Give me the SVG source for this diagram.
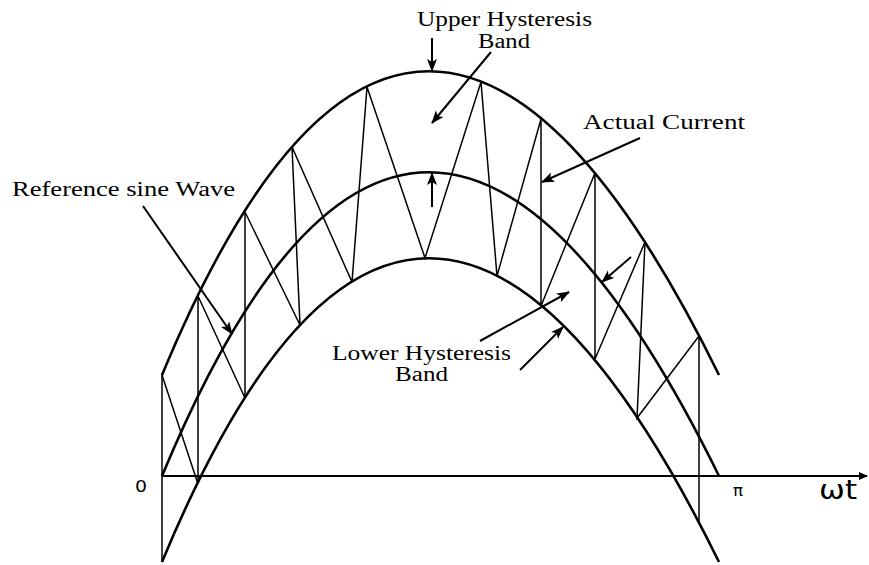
<svg xmlns="http://www.w3.org/2000/svg" width="869" height="565" viewBox="0 0 869 565">
<style>
.curve{fill:none;stroke:#000;stroke-width:2.6}
.zig{fill:none;stroke:#000;stroke-width:1.5;stroke-linejoin:miter}
.arr{fill:none;stroke:#000;stroke-width:2;marker-end:url(#ah)}
.axis{fill:none;stroke:#000;stroke-width:2;marker-end:url(#ah2)}
.lbl{font-family:"Liberation Serif","Times New Roman",serif;font-size:20.5px;fill:#000}
.sym{font-family:"DejaVu Sans",sans-serif;fill:#000}
</style>
<defs>
<marker id="ah" markerUnits="userSpaceOnUse" markerWidth="14" markerHeight="12" refX="12" refY="5" orient="auto">
<path d="M0,0 L13,5 L0,10 L3,5 Z" fill="#000"/>
</marker>
<marker id="ah2" markerUnits="userSpaceOnUse" markerWidth="10" markerHeight="10" refX="8" refY="4" orient="auto">
<path d="M0,0 L9,4 L0,8 Z" fill="#000"/>
</marker>
</defs>
<rect width="869" height="565" fill="#fff"/>
<g id="axis">
<line class="axis" x1="162" y1="476" x2="867" y2="476"/>
<text class="sym" x="135" y="492" font-size="16" textLength="12" lengthAdjust="spacingAndGlyphs">0</text>
<text class="sym" x="733" y="496" font-size="15" textLength="10" lengthAdjust="spacingAndGlyphs">π</text>
<text class="sym" x="819" y="499" font-size="26" textLength="38" lengthAdjust="spacingAndGlyphs">ωt</text>
</g>
<g id="upper-band">
<path class="curve" d="M162,375 C330,-30 520,-30 719,375"/>
</g>
<g id="reference-sine">
<path class="curve" d="M162,476 C330,71 520,71 719,476"/>
</g>
<g id="lower-band">
<path class="curve" d="M162,562 C330,157 520,157 719,562"/>
</g>
<g id="actual-current">
<line class="zig" x1="162" y1="375" x2="162" y2="562"/>
<polyline class="zig" points="162,375 198,484 198,296 245,398 245,212 300,325 292,147 352,282 367,87 425,258 481,82 497,276 541,119 541,306 595,173 595,359 645,242 637,418 699,336 699,522"/>
</g>
<g id="label-upper">
<text class="lbl" x="417" y="26" textLength="175" lengthAdjust="spacingAndGlyphs">Upper Hysteresis</text>
<text class="lbl" x="478" y="48" textLength="52" lengthAdjust="spacingAndGlyphs">Band</text>
</g>
<g id="label-actual">
<text class="lbl" x="583" y="129" textLength="162" lengthAdjust="spacingAndGlyphs">Actual Current</text>
</g>
<g id="label-reference">
<text class="lbl" x="12" y="196" textLength="223" lengthAdjust="spacingAndGlyphs">Reference sine Wave</text>
</g>
<g id="label-lower">
<text class="lbl" x="332" y="360" textLength="179" lengthAdjust="spacingAndGlyphs">Lower Hysteresis</text>
<text class="lbl" x="395" y="381" textLength="53" lengthAdjust="spacingAndGlyphs">Band</text>
</g>
<g id="connectors">
<line class="arr" x1="432" y1="38" x2="432" y2="71"/>
<line class="arr" x1="491" y1="52" x2="432" y2="123"/>
<line class="arr" x1="432" y1="207" x2="432" y2="173"/>
<line class="arr" x1="640" y1="138" x2="542" y2="182"/>
<line class="arr" x1="143" y1="206" x2="232" y2="334"/>
<line class="arr" x1="631" y1="257" x2="602" y2="282"/>
<line class="arr" x1="480" y1="341" x2="569" y2="292"/>
<line class="arr" x1="520" y1="370" x2="563" y2="327"/>
</g>
</svg>
